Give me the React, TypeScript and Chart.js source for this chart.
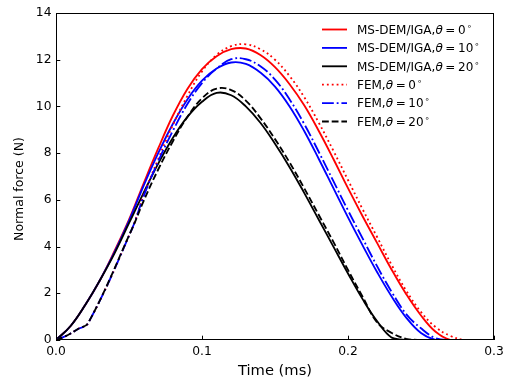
import React, { useEffect, useRef } from 'react';
import { Chart, registerables } from 'chart.js';

Chart.register(...registerables);

// ---- Data (time in ms, normal force in N) ----
const demTime = [
  0, 0.01, 0.02, 0.03, 0.04, 0.05, 0.06, 0.07, 0.08, 0.09, 0.1,
  0.11, 0.12, 0.13, 0.14, 0.15, 0.16, 0.17, 0.18, 0.19, 0.2,
  0.21, 0.22, 0.23, 0.24, 0.25, 0.26, 0.27, 0.28, 0.29, 0.3,
];
const demTheta0 = [
  0, 0.6, 1.5, 2.55, 3.8, 5.15, 6.7, 8.2, 9.6, 10.75, 11.6,
  12.15, 12.45, 12.48, 12.2, 11.68, 10.95, 10.05, 8.95, 7.75, 6.5,
  5.3, 4.15, 3.0, 1.95, 1.05, 0.35, 0, 0, 0, 0,
];
const demTheta10 = [
  0, 0.6, 1.5, 2.55, 3.75, 5.1, 6.6, 8.0, 9.25, 10.3, 11.1,
  11.62, 11.88, 11.82, 11.45, 10.85, 10.0, 8.95, 7.75, 6.5, 5.25,
  4.05, 2.9, 1.85, 0.95, 0.3, 0, 0, 0, 0, 0,
];
const demTheta20 = [
  0, 0.6, 1.5, 2.55, 3.7, 5.0, 6.3, 7.55, 8.65, 9.55, 10.2,
  10.58, 10.48, 10.0, 9.3, 8.4, 7.4, 6.3, 5.15, 4.0, 2.85,
  1.75, 0.8, 0.1, 0, 0, 0, 0, 0, 0, 0,
];

const femTime = [
  0, 0.005, 0.01, 0.015, 0.022, 0.052,
  0.06, 0.07, 0.08, 0.09, 0.1, 0.11, 0.12, 0.13, 0.14, 0.15, 0.16, 0.17,
  0.18, 0.19, 0.2, 0.21, 0.22, 0.23, 0.24, 0.25, 0.26, 0.27, 0.28, 0.29, 0.3,
];
const femTheta0 = [
  0, 0.12, 0.28, 0.47, 0.72, 4.75,
  6.2, 7.75, 9.2, 10.45, 11.5, 12.2, 12.58, 12.66, 12.45, 12.0, 11.3, 10.4,
  9.3, 8.1, 6.85, 5.6, 4.4, 3.2, 2.1, 1.2, 0.55, 0.18, 0, 0, 0,
];
const femTheta10 = [
  0, 0.12, 0.28, 0.47, 0.72, 4.75,
  6.15, 7.65, 8.95, 10.1, 11.0, 11.62, 12.02, 12.02, 11.72, 11.15, 10.3, 9.25,
  8.05, 6.8, 5.55, 4.35, 3.15, 2.05, 1.1, 0.5, 0.08, 0, 0, 0, 0,
];
const femTheta20 = [
  0, 0.12, 0.28, 0.47, 0.72, 4.75,
  5.95, 7.3, 8.5, 9.55, 10.35, 10.76, 10.7, 10.25, 9.5, 8.6, 7.6, 6.5,
  5.35, 4.2, 3.0, 1.85, 0.75, 0.3, 0.05, 0, 0, 0, 0, 0, 0,
];

const seriesPrefixes = ['MS-DEM/IGA,', 'MS-DEM/IGA,', 'MS-DEM/IGA,', 'FEM,', 'FEM,', 'FEM,'];
const seriesAngles = ['0', '10', '20', '0', '10', '20'];

const xTicks = [0, 0.1, 0.2, 0.3];
const yTicks = [0, 2, 4, 6, 8, 10, 12, 14];
const xTitle = 'Time (ms)';
const yTitle = 'Normal force (N)';

const FONT = '"DejaVu Sans", "Noto Sans", sans-serif';
const LW = 1.84;

const styles = [
  { color: '#ff0000', dash: [] as number[] },
  { color: '#0000ff', dash: [] as number[] },
  { color: '#000000', dash: [] as number[] },
  { color: '#ff0000', dash: [1.84, 3.04] },
  { color: '#0000ff', dash: [11.8, 2.9, 1.84, 2.9] },
  { color: '#000000', dash: [6.8, 2.9] },
];

const toPoints = (t: number[], v: number[]) => t.map((x, i) => ({ x, y: v[i] }));

const decorPlugin = {
  id: 'decor',
  afterDraw(chart: any) {
    const { ctx, chartArea: a, scales } = chart;
    ctx.save();
    // inward ticks
    ctx.strokeStyle = '#000';
    ctx.lineWidth = 1;
    ctx.setLineDash([]);
    ctx.beginPath();
    xTicks.forEach((v) => {
      const x = Math.round(scales.x.getPixelForValue(v)) + 0.5;
      ctx.moveTo(x, a.bottom);
      ctx.lineTo(x, a.bottom - 4.3);
    });
    yTicks.forEach((v) => {
      const y = Math.round(scales.y.getPixelForValue(v)) + 0.5;
      ctx.moveTo(a.left, y);
      ctx.lineTo(a.left + 4.3, y);
    });
    ctx.stroke();
    // frame
    ctx.strokeRect(a.left + 0.5, a.top + 0.5, a.right - a.left - 1, a.bottom - a.top - 1);

    // axis titles
    ctx.fillStyle = '#000';
    ctx.font = `14.7px ${FONT}`;
    ctx.textAlign = 'center';
    ctx.textBaseline = 'middle';
    ctx.fillText(xTitle, (a.left + a.right) / 2, 371);
    ctx.save();
    ctx.font = `12.5px ${FONT}`;
    ctx.translate(20, 189);
    ctx.rotate(-Math.PI / 2);
    ctx.fillText(yTitle, 0, 0);
    ctx.restore();

    // legend
    const fs = 12;
    ctx.textAlign = 'left';
    ctx.textBaseline = 'alphabetic';
    for (let i = 0; i < seriesPrefixes.length; i++) {
      const y = 29.5 + i * 18.4;
      ctx.strokeStyle = styles[i].color;
      ctx.lineWidth = LW;
      ctx.setLineDash(styles[i].dash);
      ctx.beginPath();
      ctx.moveTo(322, y);
      ctx.lineTo(347, y);
      ctx.stroke();
      ctx.setLineDash([]);
      let x = 357;
      const base = y + 4.3;
      ctx.fillStyle = '#000';
      ctx.font = `${fs}px ${FONT}`;
      ctx.fillText(seriesPrefixes[i], x, base);
      x += ctx.measureText(seriesPrefixes[i]).width;
      ctx.font = `italic ${fs}px ${FONT}`;
      ctx.fillText('θ', x, base);
      x += ctx.measureText('θ').width;
      ctx.font = `${fs}px ${FONT}`;
      x += fs * 0.22;
      ctx.fillText('=', x, base);
      x += ctx.measureText('=').width + fs * 0.22;
      ctx.fillText(seriesAngles[i], x, base);
      x += ctx.measureText(seriesAngles[i]).width + 1;
      ctx.font = `${fs * 0.7}px ${FONT}`;
      ctx.fillText('∘', x, base - fs * 0.42);
    }
    ctx.restore();
  },
};

export default function App() {
  const canvasRef = useRef<HTMLCanvasElement | null>(null);

  useEffect(() => {
    if (!canvasRef.current) return;
    const seriesData = [
      toPoints(demTime, demTheta0),
      toPoints(demTime, demTheta10),
      toPoints(demTime, demTheta20),
      toPoints(femTime, femTheta0),
      toPoints(femTime, femTheta10),
      toPoints(femTime, femTheta20),
    ];
    const chart = new Chart(canvasRef.current, {
      type: 'line',
      data: {
        datasets: seriesData.map((d, i) => ({
          label: seriesPrefixes[i] + 'θ=' + seriesAngles[i],
          data: d,
          borderColor: styles[i].color,
          backgroundColor: styles[i].color,
          borderDash: styles[i].dash,
          borderWidth: LW,
          borderCapStyle: 'butt',
          pointRadius: 0,
          fill: false,
          tension: 0.4,
          order: 6 - i,
        })),
      },
      options: {
        animation: false,
        responsive: true,
        maintainAspectRatio: false,
        layout: { padding: { top: 13, right: 11, left: 0, bottom: 0 } },
        plugins: { legend: { display: false }, tooltip: { enabled: false } },
        scales: {
          x: {
            type: 'linear',
            min: 0,
            max: 0.3,
            grid: { display: false, drawTicks: false },
            border: { display: false },
            afterBuildTicks: (s: any) => {
              s.ticks = xTicks.map((v) => ({ value: v }));
            },
            ticks: {
              color: '#000',
              font: { family: FONT, size: 12.3 },
              padding: 4,
              maxRotation: 0,
              autoSkip: false,
              callback: (v: any) => Number(v).toFixed(1),
            },
            afterFit: (s: any) => {
              s.height = 43;
              s.paddingLeft = 0;
              s.paddingRight = 0;
            },
          },
          y: {
            min: 0,
            max: 14,
            grid: { display: false, drawTicks: false },
            border: { display: false },
            afterBuildTicks: (s: any) => {
              s.ticks = yTicks.map((v) => ({ value: v }));
            },
            ticks: {
              color: '#000',
              font: { family: FONT, size: 12.3 },
              padding: 4.5,
              autoSkip: false,
              callback: (v: any) => String(v),
            },
            afterFit: (s: any) => {
              s.width = 56;
              s.paddingTop = 0;
              s.paddingBottom = 0;
            },
          },
        },
      },
      plugins: [decorPlugin],
    } as any);
    return () => chart.destroy();
  }, []);

  return (
    <div style={{ position: 'absolute', left: 0, top: 0, width: 505, height: 383, background: '#fff' }}>
      <canvas ref={canvasRef} />
    </div>
  );
}
